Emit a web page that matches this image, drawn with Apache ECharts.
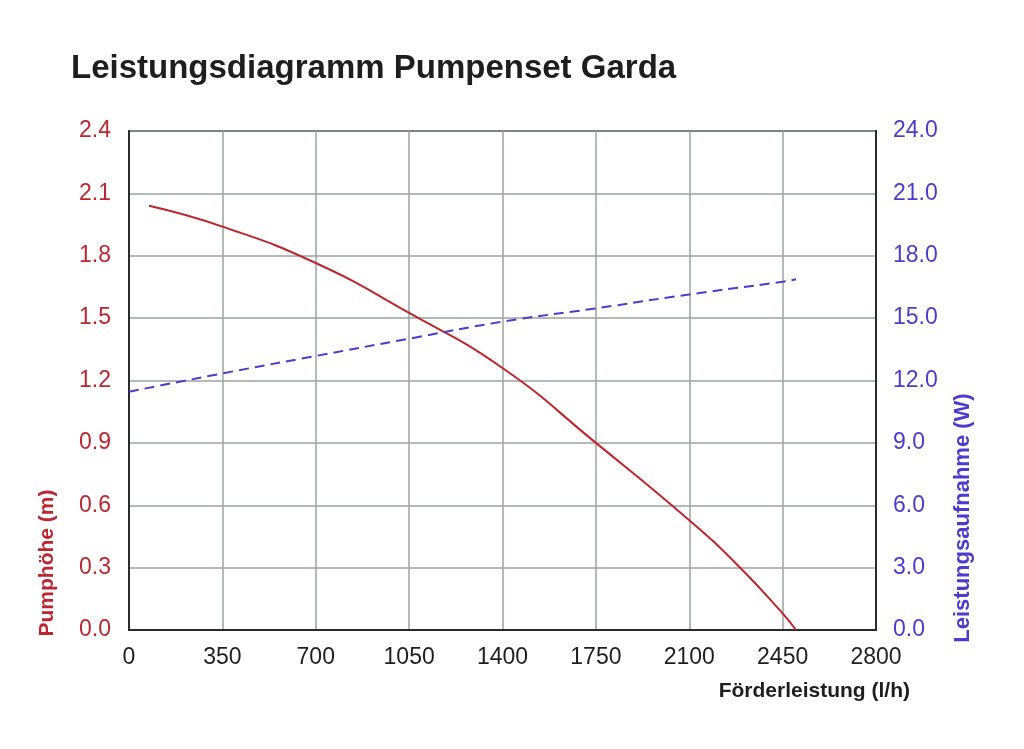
<!DOCTYPE html>
<html>
<head>
<meta charset="utf-8">
<script src="https://cdn.jsdelivr.net/npm/echarts@6/dist/echarts.min.js"></script>
<style>
  html, body { margin: 0; padding: 0; background: #fff; }
  #chart { width: 1024px; height: 749px; }
</style>
</head>
<body>
<div id="chart"></div>
<script>
// Förderleistung (l/h) vs Pumphöhe (m)
const flowHead = [75, 350, 700, 1050, 1400, 1750, 2100, 2275, 2450, 2500]
const head = [2.04, 1.94, 1.765, 1.525, 1.26, 0.90, 0.528, 0.32, 0.08, 0.0]

// Förderleistung (l/h) vs Leistungsaufnahme (W)
const flowPower = [0, 350, 700, 1050, 1400, 1750, 2100, 2450, 2500]
const power = [11.46, 12.34, 13.18, 14.01, 14.83, 15.47, 16.14, 16.75, 16.87]

const titleText = 'Leistungsdiagramm Pumpenset Garda'
const xName = 'Förderleistung (l/h)'
const leftName = 'Pumphöhe (m)'
const rightName = 'Leistungsaufnahme (W)'

const red = '#bd262e'
const blue = '#4b3ccf'
const font = '"Liberation Sans", Arial, sans-serif'

let chart = echarts.init(document.getElementById('chart'))

let option = {
    backgroundColor: '#fff',
    animation: false,
    title: {
        text: titleText,
        left: 66,
        top: 47,
        textStyle: { fontFamily: font, fontSize: 33, fontWeight: 'bold', color: '#1e1e1e' }
    },
    grid: {
        left: 129, right: 148, top: 131, bottom: 119,
        show: true, borderColor: '#2b2b2b', borderWidth: 2
    },
    xAxis: {
        type: 'value',
        min: 0, max: 2800, interval: 350,
        axisLine: { show: true, lineStyle: { color: '#2b2b2b', width: 2 } },
        axisTick: { show: false },
        axisLabel: { color: '#1e1e1e', fontSize: 23, fontFamily: font, margin: 16,
            formatter: v => String(v) },
        splitLine: { lineStyle: { color: '#9aa5a2', width: 1.5 } }
    },
    yAxis: [{
        type: 'value',
        min: 0, max: 2.4, interval: 0.3,
        axisLine: { show: true, lineStyle: { color: '#2b2b2b', width: 2 } },
        axisTick: { show: false },
        axisLabel: { color: red, fontSize: 23, fontFamily: font, margin: 18,
            formatter: v => v.toFixed(1) },
        splitLine: { lineStyle: { color: '#9aa5a2', width: 1.5 } }
    }, {
        type: 'value',
        min: 0, max: 24, interval: 3,
        position: 'right',
        axisLine: { show: true, lineStyle: { color: '#2b2b2b', width: 2 } },
        axisTick: { show: false },
        axisLabel: { color: blue, fontSize: 23, fontFamily: font, margin: 17,
            formatter: v => v.toFixed(1) },
        splitLine: { show: false }
    }],
    graphic: [{
        type: 'text',
        x: 47, y: 563, rotation: Math.PI / 2,
        style: { text: leftName, fill: red, font: 'bold 21px ' + font,
            textAlign: 'center', textVerticalAlign: 'middle' }
    }, {
        type: 'text',
        x: 963, y: 518, rotation: Math.PI / 2,
        style: { text: rightName, fill: blue, font: 'bold 22px ' + font,
            textAlign: 'center', textVerticalAlign: 'middle' }
    }, {
        type: 'text',
        x: 910, y: 691,
        style: { text: xName, fill: '#1e1e1e', font: 'bold 21px ' + font,
            textAlign: 'right', textVerticalAlign: 'middle' }
    }],
    series: [{
        type: 'line',
        yAxisIndex: 0,
        data: flowHead.map((x, i) => [x, head[i]]),
        smooth: 0.5,
        showSymbol: false,
        lineStyle: { color: red, width: 2 }
    }, {
        type: 'line',
        yAxisIndex: 1,
        data: flowPower.map((x, i) => [x, power[i]]),
        smooth: 0.5,
        showSymbol: false,
        lineStyle: { color: blue, width: 2, type: [10, 6] }
    }]
}

chart.setOption(option)
</script>
</body>
</html>
